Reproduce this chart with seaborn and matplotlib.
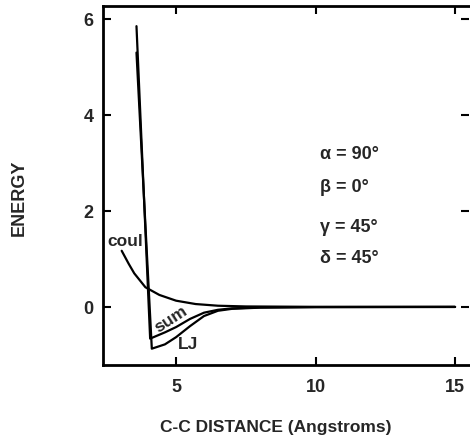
import matplotlib
matplotlib.use("Agg")
import matplotlib.pyplot as plt
import seaborn as sns
import pandas as pd

# Data
lj_x = [3.58, 4.13, 4.6, 5.0, 5.5, 6.0, 6.5, 7.0, 8.0, 10.0, 15.0]
lj_y = [5.3, -0.87, -0.78, -0.63, -0.40, -0.19, -0.08, -0.04, -0.015, -0.004, 0.0]

sum_x = [3.58, 4.07, 4.6, 5.0, 5.5, 6.0, 6.5, 7.0, 8.0, 10.0, 15.0]
sum_y = [5.85, -0.66, -0.53, -0.42, -0.25, -0.12, -0.06, -0.03, -0.01, -0.003, 0.0]

coul_x = [3.05, 3.3, 3.5, 3.9, 4.4, 5.0, 5.7, 6.5, 7.5, 10.0, 15.0]
coul_y = [1.17, 0.9, 0.70, 0.41, 0.25, 0.13, 0.06, 0.025, 0.01, 0.002, 0.0]

x_ticks = [5, 10, 15]
y_ticks = [0, 2, 4, 6]
angle_labels = ["α = 90°", "β = 0°", "γ = 45°", "δ = 45°"]
angle_y = [3.19, 2.51, 1.67, 1.04]

sns.set_theme(style="white")
plt.rcParams["font.family"] = ["Liberation Sans", "DejaVu Sans"]
plt.rcParams["font.weight"] = "bold"

df = pd.concat([
    pd.DataFrame({"x": lj_x, "y": lj_y, "curve": "LJ"}),
    pd.DataFrame({"x": sum_x, "y": sum_y, "curve": "sum"}),
    pd.DataFrame({"x": coul_x, "y": coul_y, "curve": "coul"}),
])

fig = plt.figure(figsize=(4.70, 4.39), dpi=100)
ax = fig.add_axes([103 / 470, 1 - 366 / 439, 366 / 470, 359 / 439])

sns.lineplot(data=df, x="x", y="y", units="curve", estimator=None, sort=False,
             color="black", linewidth=1.6, ax=ax, legend=False)

ax.set_xlim(2.38, 15.5)
ax.set_ylim(-1.21, 6.27)
ax.set_xticks(x_ticks)
ax.set_yticks(y_ticks)
ax.set_xticklabels([str(t) for t in x_ticks], fontweight="bold", fontsize=13)
ax.set_yticklabels([str(t) for t in y_ticks], fontweight="bold", fontsize=13)

for s in ["left", "top", "bottom"]:
    ax.spines[s].set_visible(True)
    ax.spines[s].set_color("black")
    ax.spines[s].set_linewidth(2.0)
ax.spines["right"].set_visible(False)

ax.tick_params(axis="both", direction="in", length=6, width=1.5, color="black",
               top=True, right=True, bottom=True, left=True, pad=7)
ax.tick_params(axis="x", pad=9)

ax.set_xlabel("C-C DISTANCE (Angstroms)", fontsize=12.5, fontweight="bold", va="center")
ax.set_ylabel("ENERGY", fontsize=13, fontweight="bold")
ax.xaxis.set_label_coords(0.473, -0.172)
ax.yaxis.set_label_coords(-0.205, 0.468)

ax.text(2.53, 1.375, "coul", fontsize=12.5, fontweight="bold", ha="left", va="center")
ax.text(4.82, -0.23, "sum", fontsize=12.5, fontweight="bold", ha="center", va="center", rotation=33)
ax.text(5.41, -0.76, "LJ", fontsize=12.5, fontweight="bold", ha="center", va="center")

for lab, yy in zip(angle_labels, angle_y):
    ax.text(10.16, yy, lab, fontsize=13, fontweight="bold", ha="left", va="center")

fig.savefig("out.png", dpi=100, facecolor="white")
